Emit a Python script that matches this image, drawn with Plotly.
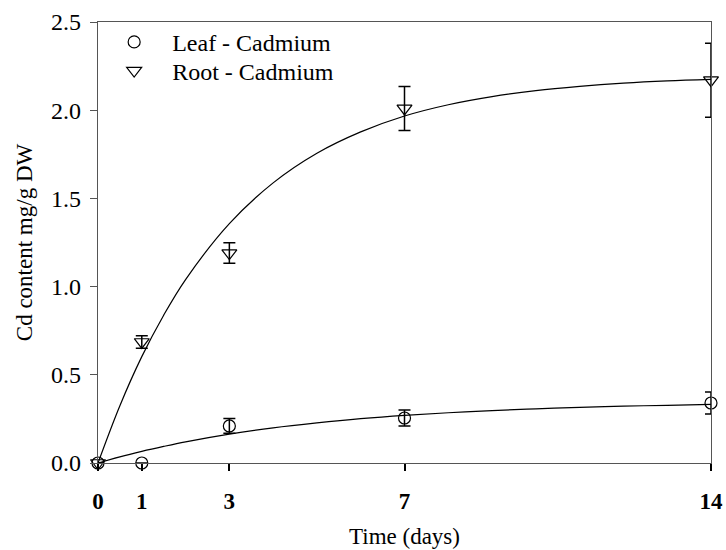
import plotly.graph_objects as go

days = [0, 1, 3, 7, 14]
leaf_cd = [0.0, 0.0, 0.21, 0.255, 0.34]
leaf_err = [0.0, 0.0, 0.042, 0.045, 0.062]
root_cd = [0.0, 0.686, 1.19, 2.01, 2.17]
root_err = [0.0, 0.035, 0.058, 0.125, 0.21]

fit_days = [0, 0.5, 1, 1.5, 2, 3, 4, 5, 6, 7, 8, 9, 10, 11, 12, 13, 14]
leaf_fit = [0, 0.035, 0.066, 0.094, 0.120, 0.164, 0.199, 0.227, 0.251, 0.270,
            0.285, 0.297, 0.307, 0.315, 0.322, 0.327, 0.332]
root_fit = [0, 0.325, 0.603, 0.838, 1.040, 1.357, 1.588, 1.756, 1.877, 1.967,
            2.031, 2.077, 2.111, 2.135, 2.153, 2.166, 2.175]

tick_vals = [0, 1, 3, 7, 14]
tick_text = ["0", "1", "3", "7", "14"]
y_ticks = [0, 0.5, 1.0, 1.5, 2.0, 2.5]

FONT = "Liberation Serif, Times New Roman, serif"

fig = go.Figure()
fig.add_trace(go.Scatter(x=fit_days, y=leaf_fit, mode="lines", line=dict(color="black", width=1.2, shape="spline"),
                         showlegend=False, hoverinfo="skip"))
fig.add_trace(go.Scatter(x=fit_days, y=root_fit, mode="lines", line=dict(color="black", width=1.2, shape="spline"),
                         showlegend=False, hoverinfo="skip"))
fig.add_trace(go.Scatter(x=days, y=leaf_cd, mode="markers", name="Leaf - Cadmium", legend="legend",
                         marker=dict(symbol="circle-open", size=12, color="black", line=dict(width=1.2)),
                         error_y=dict(type="data", array=leaf_err, color="black", thickness=1.5, width=6),
                         cliponaxis=False))
fig.add_trace(go.Scatter(x=days, y=root_cd, mode="markers", name="Root - Cadmium", legend="legend2",
                         marker=dict(symbol="triangle-down-open", size=13, color="black", line=dict(width=1.2)),
                         error_y=dict(type="data", array=root_err, color="black", thickness=1.5, width=6),
                         cliponaxis=False))

legend_common = dict(xanchor="left", yanchor="middle", bgcolor="rgba(0,0,0,0)",
                     font=dict(family=FONT, size=24), itemwidth=66)

fig.update_layout(
    width=726, height=550,
    margin=dict(l=98, r=15, t=22, b=87, autoexpand=False),
    plot_bgcolor="white", paper_bgcolor="white",
    font=dict(family=FONT, color="black", size=23),
    showlegend=True,
    legend=dict(x=-0.003, y=0.954, **legend_common),
    legend2=dict(x=-0.003, y=0.889, **legend_common),
    xaxis=dict(range=[0, 14], tickvals=tick_vals, ticktext=tick_text, ticks="outside", ticklen=7,
               tickwidth=1.8, tickcolor="black", showline=True, mirror=True, linecolor="#555", linewidth=1.3,
               showgrid=False, zeroline=False, automargin=False, ticklabelstandoff=10,
               tickfont=dict(family=FONT, size=23, weight="bold"),
               title=dict(text="Time (days)", font=dict(family=FONT, size=23), standoff=15)),
    yaxis=dict(range=[0, 2.5], tickvals=y_ticks, tickformat=".1f", ticks="outside",
               ticklen=7, tickwidth=1.3, tickcolor="#555", showline=True, mirror=True, linecolor="#555",
               linewidth=1.3, showgrid=False, zeroline=False, automargin=False, ticklabelstandoff=4,
               tickfont=dict(family=FONT, size=24),
               title=dict(text="Cd content mg/g DW", font=dict(family=FONT, size=23), standoff=11)),
)

fig.write_html("out.html")
